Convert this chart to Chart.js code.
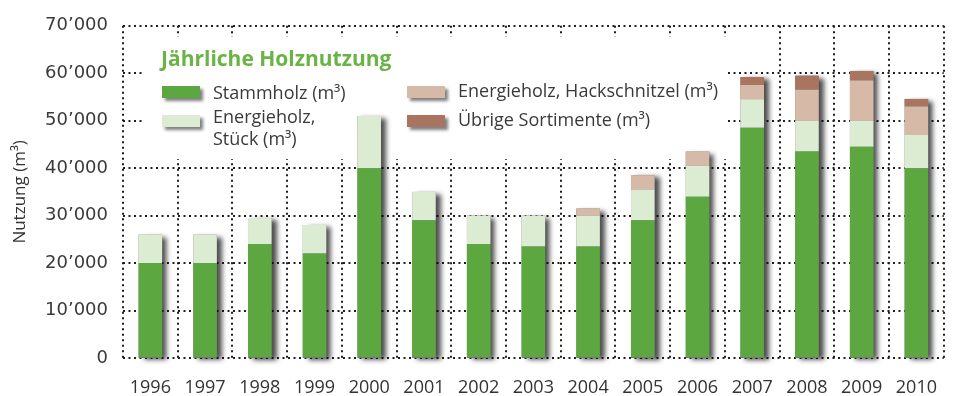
<!DOCTYPE html>
<html>
<head>
<meta charset="utf-8">
<script src="https://cdn.jsdelivr.net/npm/chart.js@4"></script>
<style>
  body { margin: 0; background: #fff; }
  #wrap { position: relative; width: 956px; height: 396px; }
  #legend { position: absolute; left: 0; top: 0; font-family: 'Open Sans', sans-serif; color: #3a3a3a; }
  #legend .title { position: absolute; left: 161px; top: 48px; font-weight: bold; font-size: 21px; line-height: 21px; color: #6ab345; white-space: nowrap; }
  #legend .txt { position: absolute; font-size: 18px; line-height: 22px; white-space: nowrap; }
  #legend .sw { position: absolute; width: 38px; height: 12px; box-shadow: 3px 3px 3px rgba(0,0,0,.5); }
</style>
</head>
<body>
<div id="wrap">
  <canvas id="holzChart" width="956" height="396"></canvas>
  <div id="legend"><div class="title">Jährliche Holznutzung</div></div>
</div>
<script>
const jahre = ['1996', '1997', '1998', '1999', '2000', '2001', '2002', '2003', '2004', '2005', '2006', '2007', '2008', '2009', '2010'];
const stammholz = [20000, 20000, 24000, 22000, 40000, 29000, 24000, 23500, 23500, 29000, 34000, 48500, 43500, 44500, 40000];
const stueckholz = [6000, 6000, 5500, 6000, 11000, 6000, 6000, 6500, 6500, 6500, 6500, 6000, 6500, 5500, 7000];
const hackschnitzel = [0, 0, 0, 0, 0, 0, 0, 0, 1500, 3000, 3000, 3000, 6500, 8500, 6000];
const uebrige = [0, 0, 0, 0, 0, 0, 0, 0, 0, 0, 0, 1700, 3000, 2000, 1600];
const yTicks = [0, 10000, 20000, 30000, 40000, 50000, 60000, 70000];

const serien = [
    { label: 'Stammholz (m³)', data: stammholz, color: '#5ca73f' },
    { label: 'Energieholz,\nStück (m³)', data: stueckholz, color: '#dcecd3' },
    { label: 'Energieholz, Hackschnitzel (m³)', data: hackschnitzel, color: '#d7b9a8' },
    { label: 'Übrige Sortimente (m³)', data: uebrige, color: '#a97560' }
];

// Legendenplätze: Farbfeld (x, y) und Text (x, y)
const legendPos = [
    { sx: 162, sy: 86, tx: 213, ty: 81 },
    { sx: 162, sy: 115, tx: 213, ty: 105 },
    { sx: 407, sy: 86, tx: 458, ty: 79 },
    { sx: 407, sy: 115, tx: 458, ty: 108 }
];

const legend = document.getElementById('legend');
serien.forEach((s, i) => {
    const p = legendPos[i];
    const sw = document.createElement('div');
    sw.className = 'sw';
    sw.style.left = p.sx + 'px';
    sw.style.top = p.sy + 'px';
    sw.style.background = s.color;
    legend.appendChild(sw);
    const t = document.createElement('div');
    t.className = 'txt';
    t.style.left = p.tx + 'px';
    t.style.top = p.ty + 'px';
    t.innerHTML = s.label.replace('\n', '<br>');
    legend.appendChild(t);
});

// weisse Fläche hinter der Legende und Schatten der Säulen
const hintergrund = {
    id: 'hintergrund',
    beforeDatasetsDraw(chart) {
        const ctx = chart.ctx;
        const y = chart.scales.y;
        ctx.save();
        ctx.fillStyle = '#fff';
        ctx.fillRect(145, 37, 583, 122);

        ctx.shadowColor = 'rgba(0,0,0,0.7)';
        ctx.shadowBlur = 5;
        ctx.shadowOffsetX = 5;
        ctx.shadowOffsetY = 2;
        ctx.fillStyle = '#777';
        chart.getDatasetMeta(0).data.forEach((bar, i) => {
            const total = chart.data.datasets.reduce((sum, d) => sum + d.data[i], 0);
            const top = y.getPixelForValue(total);
            const bottom = y.getPixelForValue(0);
            ctx.fillRect(bar.x - bar.width / 2, top, bar.width, bottom - top);
        });
        ctx.restore();
    }
};

// punktierte Rasterlinien (Strichmuster kommt in v4 aus border.dash)
const dotGrid = { color: '#1e1e1e', lineWidth: 2, drawTicks: false };
const dotBorder = { display: false, dash: [2, 3.5] };

new Chart(document.getElementById('holzChart'), {
    type: 'bar',
    data: {
        labels: jahre,
        datasets: serien.map(s => ({
            label: s.label,
            data: s.data,
            backgroundColor: s.color,
            borderWidth: 0,
            categoryPercentage: 1,
            barPercentage: 0.43
        }))
    },
    options: {
        responsive: false,
        animation: false,
        layout: { padding: { top: 20, right: 1 } },
        plugins: {
            legend: { display: false },
            tooltip: { enabled: false }
        },
        scales: {
            x: {
                stacked: true,
                grid: { ...dotGrid, offset: true },
                border: dotBorder,
                ticks: {
                    color: '#333',
                    padding: 19,
                    font: { family: 'Open Sans', size: 18 }
                },
                afterFit: scale => { scale.height = 38; }
            },
            y: {
                stacked: true,
                min: 0,
                max: 70000,
                afterBuildTicks: scale => { scale.ticks = yTicks.map(v => ({ value: v })); },
                grid: dotGrid,
                border: dotBorder,
                ticks: {
                    color: '#3a3a3a',
                    padding: 15,
                    font: { family: 'DejaVu Sans', size: 18 },
                    callback: v => v === 0 ? '0' : (v / 1000) + '\u2019000'
                },
                title: {
                    display: true,
                    text: 'Nutzung (m³)',
                    color: '#333',
                    padding: { top: 10, bottom: 0 },
                    font: { family: 'Open Sans', size: 17 }
                },
                afterFit: scale => { scale.width = 123; }
            }
        }
    },
    plugins: [hintergrund]
});
</script>
</body>
</html>
